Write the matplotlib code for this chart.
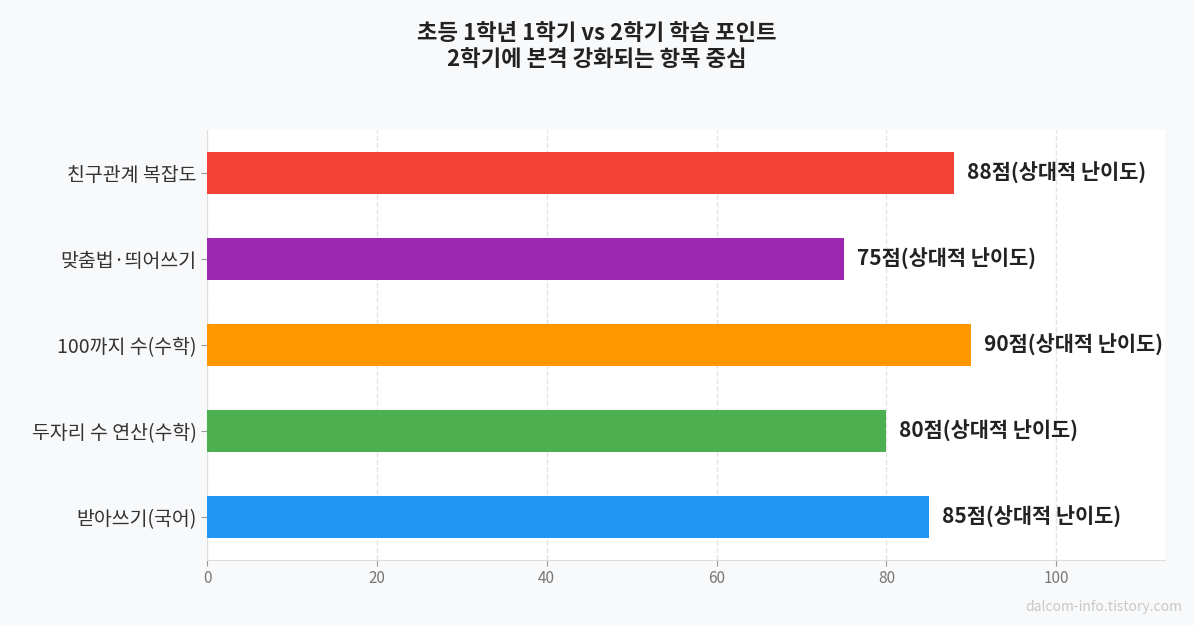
import matplotlib
matplotlib.use("Agg")
import matplotlib.pyplot as plt

plt.rcParams['font.family'] = ['Noto Sans CJK KR', 'DejaVu Sans']

categories = ["받아쓰기(국어)", "두자리 수 연산(수학)", "100까지 수(수학)", "맞춤법·띄어쓰기", "친구관계 복잡도"]
values = [85, 80, 90, 75, 88]
colors = ["#2196F3", "#4CAF50", "#FF9800", "#9C27B0", "#F44336"]
xticks = [0, 20, 40, 60, 80, 100]

fig = plt.figure(figsize=(11.94, 6.26), dpi=100, facecolor="#f8f9fb")
ax = fig.add_axes([207/1194, 1-560/626, (1165-207)/1194, (560-130)/626])
ax.set_facecolor("white")
y = range(len(categories))
ax.barh(y, values, height=0.48, color=colors, zorder=3)
for i, v in enumerate(values):
    ax.text(v + 1.5, i, f"{v}점(상대적 난이도)", va="center", ha="left",
            fontsize=15, fontweight="bold", color="#222222", zorder=4)
ax.set_yticks(list(y))
ax.set_yticklabels(categories, fontsize=14, color="#333333")
ax.set_xticks(xticks)
ax.set_xticklabels([str(t) for t in xticks], fontsize=11, color="#777777")
ax.set_xlim(0, 112.8)
ax.set_ylim(-0.5, len(categories) - 0.5)
ax.xaxis.grid(True, linestyle="--", color="#e3e3e3", linewidth=1, zorder=0)
for s in ["top", "right"]:
    ax.spines[s].set_visible(False)
for s in ["left", "bottom"]:
    ax.spines[s].set_color("#dddddd")
ax.tick_params(axis="y", length=4, color="#999999")
ax.tick_params(axis="x", length=4, color="#999999")

fig.text(0.5, 1-22/626, "초등 1학년 1학기 vs 2학기 학습 포인트\n2학기에 본격 강화되는 항목 중심",
         ha="center", va="top", fontsize=16, fontweight="bold", color="#222222", linespacing=1.15)
fig.text(1182/1194, 1-607/626, "dalcom-info.tistory.com", ha="right", va="center",
         fontsize=10, color="#c8c8c8")
fig.savefig("out.png", dpi=100, facecolor=fig.get_facecolor())
